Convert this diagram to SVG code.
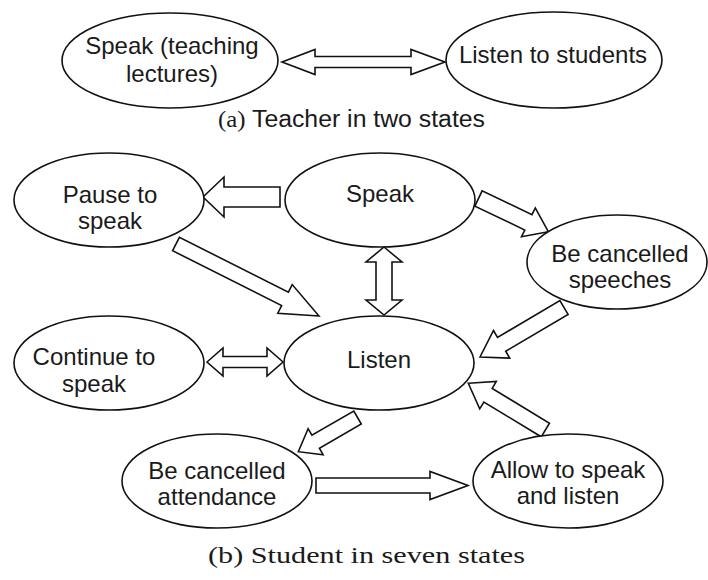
<svg xmlns="http://www.w3.org/2000/svg" width="708" height="580" viewBox="0 0 708 580">
<style>
.node ellipse{fill:#fff;stroke:#111;stroke-width:1.6}
.node text{font-family:"Liberation Sans",Arial,sans-serif;font-size:24px;fill:#1a1a1a;text-anchor:middle}
.conn polygon{fill:#fff;stroke:#111;stroke-width:1.6;stroke-linejoin:miter}
.cap{fill:#1a1a1a}
</style>
<rect width="708" height="580" fill="#fff"/>
<g class="conn" id="connectors">
<polygon points="282,62 315,49.5 315,56.5 411,56.5 411,49.5 445,62 411,74.5 411,67.5 315,67.5 315,74.5"/>
<polygon points="203,197 224,177 224,187 280,187 280,207 224,207 224,217"/>
<polygon points="319,316 277.8,313.2 281.6,305.6 172.6,250.7 179.4,237.3 288.4,292.2 292.2,284.6"/>
<polygon points="384,247 402,262 392,262 392,300 402,300 384,315 366,300 376,300 376,262 366,262"/>
<polygon points="548.3,231.7 521.5,236.7 524.8,230 474.9,206.2 482.1,190.8 532,214.6 535.3,207.9"/>
<polygon points="480,357 493.5,330.5 497.5,337.4 559.9,300.6 568.1,314.4 505.7,351.2 509.7,358.1"/>
<polygon points="207,362 223,348 223,356.5 267,356.5 267,348 283,362 267,376 267,367.5 223,367.5 223,376"/>
<polygon points="298.3,451.7 308.1,428.7 311.9,435.2 353.8,411 361.3,424 319.4,448.2 323.1,454.7"/>
<polygon points="316,478 430,478 430,471.5 468,485.5 430,499.5 430,493 316,493"/>
<polygon points="468.3,383.3 496.3,381.5 492.2,388.4 549.5,423.2 541.2,436.8 483.9,402 479.7,408.9"/>
</g>
<g class="node" id="teacher-speak">
<ellipse cx="170" cy="60.5" rx="108" ry="47.5"/>
<text x="172" y="54">Speak (teaching</text>
<text x="172" y="82">lectures)</text>
</g>
<g class="node" id="teacher-listen">
<ellipse cx="554" cy="60" rx="108" ry="48"/>
<text x="553" y="63">Listen to students</text>
</g>
<g class="node" id="pause">
<ellipse cx="109" cy="200" rx="95" ry="47"/>
<text x="110" y="203">Pause to</text>
<text x="110" y="229">speak</text>
</g>
<g class="node" id="speak">
<ellipse cx="380" cy="200" rx="95" ry="47"/>
<text x="380" y="202">Speak</text>
</g>
<g class="node" id="cancel-speech">
<ellipse cx="617" cy="262" rx="90" ry="47"/>
<text x="620" y="262">Be cancelled</text>
<text x="620" y="288">speeches</text>
</g>
<g class="node" id="continue">
<ellipse cx="109" cy="363" rx="95" ry="47"/>
<text x="94" y="365">Continue to</text>
<text x="94" y="392">speak</text>
</g>
<g class="node" id="listen">
<ellipse cx="379" cy="363" rx="95" ry="47"/>
<text x="379" y="368">Listen</text>
</g>
<g class="node" id="cancel-attendance">
<ellipse cx="217" cy="481" rx="95" ry="47"/>
<text x="217" y="479">Be cancelled</text>
<text x="217" y="505">attendance</text>
</g>
<g class="node" id="allow">
<ellipse cx="568" cy="481" rx="95" ry="47"/>
<text x="568" y="478">Allow to speak</text>
<text x="568" y="504">and listen</text>
</g>
<text class="cap" x="218" y="127" font-family="Liberation Sans,Arial,sans-serif" font-size="23" textLength="267" lengthAdjust="spacingAndGlyphs"><tspan font-family="Liberation Serif,Times New Roman,serif">(a)</tspan> Teacher in two states</text>
<text class="cap" x="208" y="563" font-family="Liberation Serif,Times New Roman,serif" font-size="24" textLength="317" lengthAdjust="spacingAndGlyphs">(b) Student in seven states</text>
</svg>
